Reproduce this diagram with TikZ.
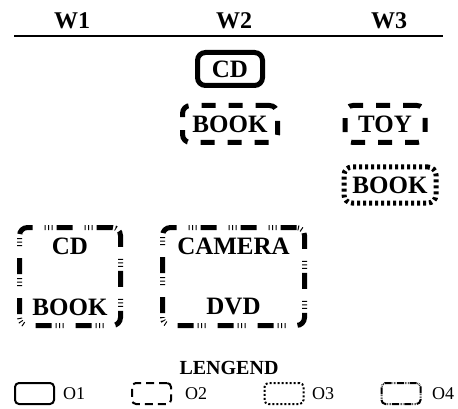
\documentclass[tikz,border=0pt]{standalone}
\usepackage{fontspec}
\setmainfont{Liberation Serif}
\begin{document}
\begin{tikzpicture}[x=1pt,y=-1pt,
  hdr/.style={font=\fontsize{24}{26}\selectfont\bfseries, inner sep=0pt},
  lbl/.style={font=\fontsize{25}{27}\selectfont\bfseries, inner sep=0pt},
  legtxt/.style={font=\fontsize{18}{20}\selectfont, inner sep=0pt, anchor=west},
  box/.style={draw, rectangle, rounded corners=8pt, line width=5pt, inner sep=0pt, line cap=butt},
  oone/.style={box},
  otwo/.style={box, dash pattern=on 14pt off 13pt},
  othree/.style={box, dash pattern=on 3pt off 3pt},
  ofour/.style={box, dash pattern=on 16pt off 4pt on 1pt off 2.5pt on 1pt off 2.5pt on 1pt off 12pt},
  leg/.style={draw, rectangle, rounded corners=4pt, line width=2pt, minimum width=39pt, minimum height=21pt, inner sep=0pt}
]
\useasboundingbox (0,0) rectangle (458,409);
\node[hdr] (w1) at (72,21) {W1};
\node[hdr] (w2) at (234,21) {W2};
\node[hdr] (w3) at (389,21) {W3};
\coordinate (l1) at (14,36);
\coordinate (l2) at (443,36);
\draw[line width=1.5pt] (l1) -- (l2);

\node[oone, minimum width=65pt, minimum height=33pt, lbl] (cd2) at (230,69) {CD};
\node[otwo, minimum width=95pt, minimum height=37pt, lbl] (book2) at (230,124) {BOOK};
\node[otwo, minimum width=80pt, minimum height=37pt, lbl] (toy3) at (385,124) {TOY};
\node[othree, minimum width=92pt, minimum height=36pt, lbl] (book3) at (390,185) {BOOK};

\node[ofour, minimum width=101pt, minimum height=98pt] (w1box) at (70,276.5) {};
\node[lbl] (w1cd) at (70,246) {CD};
\node[lbl] (w1book) at (70,307) {BOOK};
\node[ofour, minimum width=142pt, minimum height=98pt] (w2box) at (233.5,276.5) {};
\node[lbl] (w2cam) at (233.5,246) {CAMERA};
\node[lbl] (w2dvd) at (233.5,307) {DVD};

\node[font=\fontsize{20}{22}\selectfont\bfseries, inner sep=0pt] (legend) at (229,368) {LENGEND};
\node[leg] (g1) at (34.5,393.5) {};
\node[legtxt] (t1) at (63,393.5) {O1};
\node[leg, dash pattern=on 8pt off 5pt] (g2) at (151.5,393.5) {};
\node[legtxt] (t2) at (185,393.5) {O2};
\node[leg, dash pattern=on 2pt off 2pt] (g3) at (284,393.5) {};
\node[legtxt] (t3) at (312,393.5) {O3};
\node[leg, dash pattern=on 7pt off 1pt on 0.5pt off 1pt on 0.5pt off 1pt on 0.5pt off 1pt] (g4) at (401,393.5) {};
\node[legtxt] (t4) at (432,393.5) {O4};
\end{tikzpicture}
\end{document}
